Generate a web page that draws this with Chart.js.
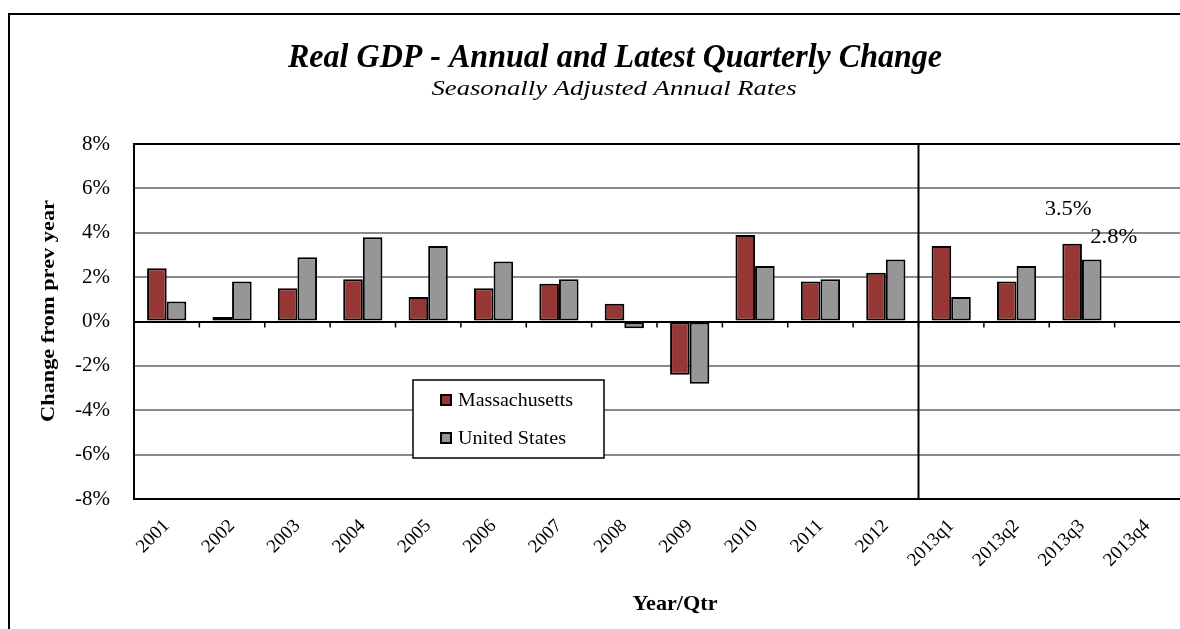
<!DOCTYPE html>
<html>
<head>
<meta charset="utf-8">
<script src="https://cdn.jsdelivr.net/npm/chart.js@4.4.0/dist/chart.umd.min.js"></script>
<style>
  body { margin: 0; background: #fff; }
  canvas { display: block; }
</style>
</head>
<body>
<canvas id="gdpChart" width="1180" height="629"></canvas>
<script>
//Chart data
const periods = ["2001", "2002", "2003", "2004", "2005", "2006", "2007", "2008",
  "2009", "2010", "2011", "2012", "2013q1", "2013q2", "2013q3", "2013q4"];
const massachusetts = [2.4, 0.2, 1.5, 1.9, 1.1, 1.5, 1.7, 0.8, -2.4, 3.9, 1.8, 2.2, 3.4, 1.8, 3.5, null];
const unitedStates = [0.9, 1.8, 2.9, 3.8, 3.4, 2.7, 1.9, -0.3, -2.8, 2.5, 1.9, 2.8, 1.1, 2.5, 2.8, null];
const yTicks = [-8, -6, -4, -2, 0, 2, 4, 6, 8];

const serif = "'Liberation Serif', 'Times New Roman', serif";
const red = "#953735";
const grey = "#969696";

//draw text squeezed/stretched to a given width
const fitText = (c, text, cx, cy, width) => {
  const w = c.measureText(text).width;
  c.save();
  c.translate(cx, cy);
  c.scale(width / w, 1);
  c.textAlign = "center";
  c.fillText(text, 0, 0);
  c.restore();
};

//Titles, legend, frame and labels drawn over the chart
const decor = {
  id: "decor",
  afterDraw(chart) {
    const c = chart.ctx;
    const area = chart.chartArea;
    const x = chart.scales.x;
    const y = chart.scales.y;
    c.save();

    //outer frame
    c.strokeStyle = "#000";
    c.lineWidth = 2;
    c.beginPath();
    c.moveTo(9, 629);
    c.lineTo(9, 14);
    c.lineTo(1180, 14);
    c.stroke();

    //titles
    c.fillStyle = "#000";
    c.textBaseline = "middle";
    c.font = "bold italic 34px " + serif;
    fitText(c, "Real GDP - Annual and Latest Quarterly Change", 615, 58, 654);
    c.font = "italic 22px " + serif;
    fitText(c, "Seasonally Adjusted Annual Rates", 614, 89, 365);

    //axis titles
    c.font = "bold 21px " + serif;
    fitText(c, "Year/Qtr", 675, 605, 85);
    c.save();
    c.translate(49, 311);
    c.rotate(-Math.PI / 2);
    c.font = "bold 19px " + serif;
    fitText(c, "Change from prev year", 0, 0, 222);
    c.restore();

    //tick marks on the zero line
    const zero = y.getPixelForValue(0);
    c.lineWidth = 1.5;
    c.beginPath();
    for (let i = 1; i < periods.length; i++) {
      const bx = (x.getPixelForValue(i - 1) + x.getPixelForValue(i)) / 2;
      c.moveTo(bx, zero);
      c.lineTo(bx, zero + 6);
    }
    c.stroke();

    //divider between years and quarters
    const dx = (x.getPixelForValue(11) + x.getPixelForValue(12)) / 2;
    c.lineWidth = 2;
    c.beginPath();
    c.moveTo(dx, area.top);
    c.lineTo(dx, area.bottom);
    c.stroke();

    //value labels on latest quarter
    const q = 14;
    const maBar = chart.getDatasetMeta(0).data[q];
    const usBar = chart.getDatasetMeta(1).data[q];
    c.font = "20px " + serif;
    fitText(c, massachusetts[q].toFixed(1) + "%", maBar.x - 4, maBar.y - 34, 47);
    fitText(c, unitedStates[q].toFixed(1) + "%", usBar.x + 22, usBar.y - 22, 47);

    //legend box
    c.fillStyle = "#fff";
    c.fillRect(413, 380, 191, 78);
    c.lineWidth = 1.5;
    c.strokeRect(413, 380, 191, 78);
    const items = [["Massachusetts", red, 400, 115], ["United States", grey, 438, 108]];
    c.font = "18px " + serif;
    for (const [name, col, ly, tw] of items) {
      c.fillStyle = col;
      c.fillRect(441, ly - 5, 10, 10);
      c.lineWidth = 2;
      c.strokeRect(441, ly - 5, 10, 10);
      c.fillStyle = "#000";
      fitText(c, name, 458 + tw / 2, ly + 1, tw);
    }
    c.restore();
  },
};

const ctx = document.getElementById("gdpChart").getContext("2d");
const chart = new Chart(ctx, {
  type: "bar",
  data: {
    labels: periods,
    datasets: [
      {
        label: "Massachusetts",
        data: massachusetts,
        backgroundColor: red,
        borderColor: "#000",
        borderWidth: 2,
        borderSkipped: false,
      },
      {
        label: "United States",
        data: unitedStates,
        backgroundColor: grey,
        borderColor: "#000",
        borderWidth: 2,
        borderSkipped: false,
      },
    ],
  },
  options: {
    responsive: false,
    animation: false,
    layout: { padding: { top: 144, right: 0, left: 0, bottom: 0 } },
    plugins: {
      legend: { display: false },
      title: { display: false },
      tooltip: { enabled: false },
    },
    datasets: { bar: { categoryPercentage: 0.6, barPercentage: 1 } },
    scales: {
      x: {
        grid: { display: false },
        border: { display: true, color: "#000", width: 2 },
        ticks: {
          color: "#000",
          font: { family: serif, size: 19 },
          minRotation: 45,
          maxRotation: 45,
          padding: 8,
        },
        afterFit: (s) => { s.height = 130; },
      },
      y: {
        min: -8,
        max: 8,
        afterBuildTicks: (s) => { s.ticks = yTicks.map((v) => ({ value: v })); },
        grid: {
          drawTicks: false,
          color: (g) => (g.tick && [0, 8, -8].includes(g.tick.value) ? "#000" : "#8a8a8a"),
          lineWidth: 2,
        },
        border: { display: true, color: "#000", width: 2 },
        ticks: {
          color: "#000",
          padding: 24,
          font: { family: serif, size: 21 },
          callback: (v) => v + "%",
        },
        afterFit: (s) => { s.width = 134; },
      },
    },
  },
  plugins: [decor],
});
</script>
</body>
</html>
